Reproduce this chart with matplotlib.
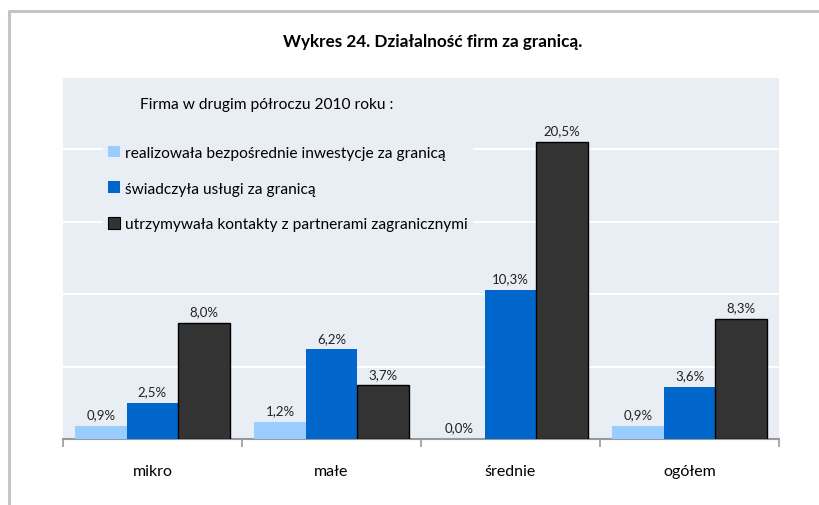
import numpy as np
import matplotlib
matplotlib.use("Agg")
import matplotlib.pyplot as plt
from matplotlib.patches import Patch
from matplotlib.lines import Line2D

plt.rcParams["font.family"] = ["Lato", "DejaVu Sans"]

# Data
categories = ["mikro", "małe", "średnie", "ogółem"]
series_names = [
    "realizowała bezpośrednie inwestycje za granicą",
    "świadczyła usługi za granicą",
    "utrzymywała kontakty z partnerami zagranicznymi",
]
inwestycje = [0.9, 1.2, 0.0, 0.9]
uslugi = [2.5, 6.2, 10.3, 3.6]
kontakty = [8.0, 3.7, 20.5, 8.3]

title = "Wykres 24. Działalność firm za granicą."
legend_title = "Firma w drugim półroczu 2010 roku :"

COLORS = ["#99CCFF", "#0066CC", "#333333"]
EDGES = ["#99CCFF", "#0066CC", "#000000"]
BG = "#E9EDF4"

W, H = 819, 506
fig = plt.figure(figsize=(W / 100, H / 100), dpi=100)
ax = fig.add_axes([63 / W, 1 - 440 / H, (779 - 63) / W, (440 - 78) / H])
ax.set_facecolor(BG)

# outer frame: only left and top edges are visible
fx, fy = 9 / W, 1 - 12 / H
fig.add_artist(Line2D([fx, fx, 1.05], [-0.05, fy, fy], transform=fig.transFigure,
                      color="#C4C4C4", linewidth=2.2))

x = np.arange(len(categories))
w = 0.287
all_series = [inwestycje, uslugi, kontakty]
for i, vals in enumerate(all_series):
    pos = x + (i - 1) * w
    ax.bar(pos, vals, width=w, color=COLORS[i], edgecolor=EDGES[i],
           linewidth=1.0 if i == 2 else 0.0, zorder=3)
    for p, v in zip(pos, vals):
        ax.annotate(f"{v:.1f}".replace(".", ",") + "%", (p, v),
                    xytext=(0, 4), textcoords="offset points",
                    ha="center", va="bottom", fontsize=9.5, color="#222222")

ax.set_xlim(-0.5, len(categories) - 0.5)
ax.set_ylim(0, 25)
ax.set_yticks([0, 5, 10, 15, 20, 25])
ax.yaxis.grid(True, color="white", linewidth=1.5, zorder=0)
ax.set_axisbelow(True)
ax.tick_params(axis="y", left=False, labelleft=False)

ax.set_xticks(x)
ax.set_xticklabels(categories, fontsize=11.5)
ax.set_xticks(np.arange(len(categories) + 1) - 0.5, minor=True)
ax.tick_params(axis="x", which="major", length=0, pad=18)
ax.tick_params(axis="x", which="minor", length=6, color="#999999", width=1.2)

for s in ["top", "right", "left"]:
    ax.spines[s].set_visible(False)
ax.spines["bottom"].set_color("#999999")
ax.spines["bottom"].set_linewidth(1.5)

handles = [Patch(facecolor=COLORS[i], edgecolor=EDGES[i],
                 linewidth=0.8 if i == 2 else 0) for i in range(3)]
leg = ax.legend(handles, series_names, loc="upper left",
                bbox_to_anchor=(103 / W, 1 - 142 / H),
                bbox_transform=fig.transFigure, fontsize=11.2,
                frameon=True, facecolor=BG, edgecolor="none", framealpha=1,
                handlelength=0.77, handleheight=0.77, handletextpad=0.35,
                labelspacing=1.38, borderpad=0.3, borderaxespad=0,
                fancybox=False)
leg.set_zorder(4)

fig.text(140 / W, 1 - 105 / H, legend_title, fontsize=11.2,
         ha="left", va="center")
fig.text(432.5 / W, 1 - 42 / H, title, fontsize=12.3, fontweight="bold",
         ha="center", va="center")

fig.savefig("out.png", dpi=100)
